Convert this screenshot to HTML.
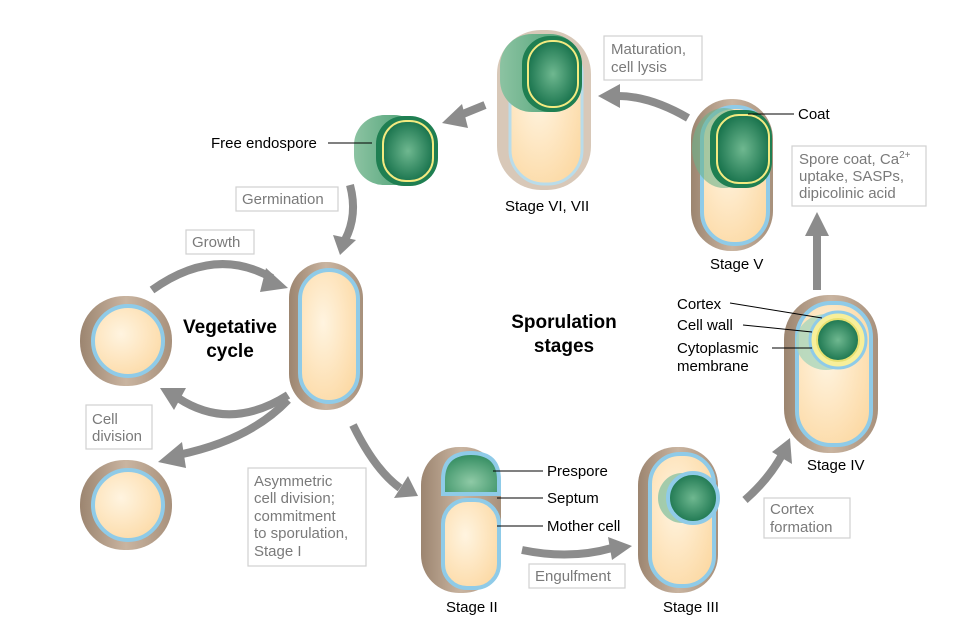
<!DOCTYPE html>
<html><head><meta charset="utf-8"><style>
body{margin:0;background:#fff}
svg{display:block;font-family:"Liberation Sans",sans-serif}
.lb{fill:#fff;stroke:#d0d0d0;stroke-width:1.2}
.lt{fill:#7a7a7a;font-size:15px}
.bt{fill:#000;font-size:15px}
.ar{fill:none;stroke:#8c8c8c;stroke-width:8;stroke-linecap:butt}
.ah{fill:#8c8c8c}
.ln{stroke:#000;stroke-width:1}
</style></head><body>
<svg width="965" height="628" viewBox="0 0 965 628">
<defs>
<linearGradient id="brown" x1="0" x2="1"><stop offset="0" stop-color="#9c8570"/><stop offset="0.5" stop-color="#c9b4a0"/><stop offset="1" stop-color="#a8917c"/></linearGradient>
<radialGradient id="cream" cx="0.4" cy="0.4" r="0.7"><stop offset="0" stop-color="#fff4e0"/><stop offset="1" stop-color="#fcd9a4"/></radialGradient>
<radialGradient id="green" cx="0.5" cy="0.7" r="0.7"><stop offset="0" stop-color="#8fcaa6"/><stop offset="1" stop-color="#2f8a5e"/></radialGradient>
<radialGradient id="dgreen" cx="0.5" cy="0.5" r="0.6"><stop offset="0" stop-color="#6fb890"/><stop offset="1" stop-color="#0d6a44"/></radialGradient>
<linearGradient id="gcoat" x1="0" x2="1"><stop offset="0" stop-color="#8cc3a2"/><stop offset="1" stop-color="#3f9a6c"/></linearGradient>
</defs>

<g>
<path class="ar" d="M152,290 Q215,245 272,278"/><polygon class="ah" points="266,268 288,288 260,292"/>
<path class="ar" d="M288,395 Q230,432 178,398"/><polygon class="ah" points="186,388 160,388 174,410"/>
<path class="ar" d="M288,400 Q250,440 178,455"/><polygon class="ah" points="182,442 158,462 186,468"/>
<path class="ar" d="M350,185 Q358,215 345,240"/><polygon class="ah" points="333,235 340,255 356,240"/>
<path class="ar" d="M485,105 L458,116"/><polygon class="ah" points="462,104 442,123 468,128"/>
<path class="ar" d="M688,118 Q650,96 618,96"/><polygon class="ah" points="620,84 598,96 620,108"/>
<path class="ar" d="M817,290 L817,232"/><polygon class="ah" points="805,236 817,212 829,236"/>
<path class="ar" d="M745,500 Q768,480 782,455"/><polygon class="ah" points="772,452 790,438 792,464"/>
<path class="ar" d="M522,550 Q570,560 612,548"/><polygon class="ah" points="608,537 632,546 612,560"/>
<path class="ar" d="M353,425 Q375,470 400,488"/><polygon class="ah" points="394,498 418,496 408,476"/>
</g>

<g>
<rect x="80" y="296" width="92" height="90" rx="44" fill="url(#brown)"/>
<circle cx="128" cy="341" r="35" fill="url(#cream)" stroke="#8fcbe8" stroke-width="4"/>
</g>
<g>
<rect x="80" y="460" width="92" height="90" rx="44" fill="url(#brown)"/>
<circle cx="128" cy="505" r="35" fill="url(#cream)" stroke="#8fcbe8" stroke-width="4"/>
</g>
<g>
<rect x="289" y="262" width="74" height="148" rx="36" fill="url(#brown)"/>
<rect x="300" y="270" width="58" height="132" rx="29" fill="url(#cream)" stroke="#8fcbe8" stroke-width="4"/>
</g>

<g>
<rect x="421" y="447" width="80" height="146" rx="38" fill="url(#brown)"/>
<path d="M443,494 V480 Q443,453 471,453 Q499,453 499,480 V494 Z" fill="url(#green)" stroke="#8fcbe8" stroke-width="4"/>
<rect x="443" y="500" width="56" height="88" rx="24" fill="url(#cream)" stroke="#8fcbe8" stroke-width="4"/>
</g>
<g>
<rect x="638" y="447" width="80" height="146" rx="38" fill="url(#brown)"/>
<rect x="650" y="454" width="64" height="132" rx="30" fill="url(#cream)" stroke="#8fcbe8" stroke-width="4"/>
<ellipse cx="682" cy="498" rx="24" ry="25" fill="#8cc3a2" opacity="0.8"/>
<circle cx="693" cy="498" r="25" fill="url(#dgreen)" stroke="#8fcbe8" stroke-width="4"/>
</g>
<g>
<rect x="784" y="295" width="94" height="158" rx="44" fill="url(#brown)"/>
<rect x="797" y="303" width="74" height="142" rx="34" fill="url(#cream)" stroke="#8fcbe8" stroke-width="4"/>
<ellipse cx="826" cy="342" rx="30" ry="28" fill="#aad6bb" opacity="0.8"/>
<circle cx="838" cy="340" r="28" fill="#f7ef9a" stroke="#8fcbe8" stroke-width="3"/>
<circle cx="838" cy="340" r="21" fill="url(#dgreen)" stroke="#e8e070" stroke-width="2"/>
</g>
<g>
<rect x="691" y="99" width="82" height="152" rx="40" fill="url(#brown)"/>
<rect x="702" y="107" width="66" height="137" rx="32" fill="url(#cream)" stroke="#8fcbe8" stroke-width="4"/>
<ellipse cx="724" cy="148" rx="32" ry="40" fill="#6ab38a" opacity="0.6"/>
<rect x="710" y="110" width="62" height="78" rx="26" fill="#1f7f52"/>
<rect x="717" y="115" width="52" height="68" rx="22" fill="url(#dgreen)" stroke="#f3ea80" stroke-width="2"/>
</g>
<g>
<rect x="497" y="30" width="94" height="160" rx="44" fill="#d8c8b8"/>
<rect x="510" y="40" width="72" height="144" rx="34" fill="url(#cream)" stroke="#b9dcea" stroke-width="3"/>
<rect x="500" y="34" width="82" height="78" rx="32" fill="url(#gcoat)"/>
<rect x="522" y="36" width="60" height="76" rx="28" fill="#1f7f52"/>
<rect x="528" y="41" width="50" height="66" rx="24" fill="url(#dgreen)" stroke="#f3ea80" stroke-width="2"/>
</g>
<g>
<rect x="354" y="115" width="70" height="70" rx="30" fill="url(#gcoat)"/>
<rect x="376" y="116" width="62" height="70" rx="28" fill="#1f7f52"/>
<rect x="383" y="121" width="50" height="60" rx="23" fill="url(#dgreen)" stroke="#f3ea80" stroke-width="2"/>
</g>

<g>
<rect class="lb" x="604" y="36" width="98" height="44"/><text class="lt" x="611" y="54">Maturation,</text><text class="lt" x="611" y="72">cell lysis</text>
<rect class="lb" x="792" y="146" width="134" height="60"/><text class="lt" x="799" y="164">Spore coat, Ca<tspan font-size="10" dy="-6">2+</tspan></text><text class="lt" x="799" y="181">uptake, SASPs,</text><text class="lt" x="799" y="198">dipicolinic acid</text>
<rect class="lb" x="236" y="187" width="102" height="24"/><text class="lt" x="242" y="204">Germination</text>
<rect class="lb" x="186" y="230" width="68" height="24"/><text class="lt" x="192" y="247">Growth</text>
<rect class="lb" x="86" y="405" width="66" height="44"/><text class="lt" x="92" y="424">Cell</text><text class="lt" x="92" y="441">division</text>
<rect class="lb" x="248" y="468" width="118" height="98"/><text class="lt" x="254" y="486">Asymmetric</text><text class="lt" x="254" y="503">cell division;</text><text class="lt" x="254" y="521">commitment</text><text class="lt" x="254" y="538">to sporulation,</text><text class="lt" x="254" y="556">Stage I</text>
<rect class="lb" x="529" y="564" width="96" height="24"/><text class="lt" x="535" y="581">Engulfment</text>
<rect class="lb" x="764" y="498" width="86" height="40"/><text class="lt" x="770" y="514">Cortex</text><text class="lt" x="770" y="532">formation</text>
</g>

<g>
<text class="bt" x="211" y="148">Free endospore</text><line class="ln" x1="328" y1="143" x2="372" y2="143"/>
<text class="bt" x="505" y="211">Stage VI, VII</text>
<text class="bt" x="798" y="119">Coat</text><line class="ln" x1="748" y1="114" x2="794" y2="114"/>
<text class="bt" x="710" y="269">Stage V</text>
<text class="bt" x="677" y="309">Cortex</text><line class="ln" x1="730" y1="303" x2="822" y2="318"/>
<text class="bt" x="677" y="330">Cell wall</text><line class="ln" x1="743" y1="325" x2="812" y2="332"/>
<text class="bt" x="677" y="353">Cytoplasmic</text><text class="bt" x="677" y="371">membrane</text><line class="ln" x1="772" y1="348" x2="812" y2="348"/>
<text class="bt" x="807" y="470">Stage IV</text>
<text class="bt" x="547" y="476">Prespore</text><line class="ln" x1="493" y1="471" x2="543" y2="471"/>
<text class="bt" x="547" y="503">Septum</text><line class="ln" x1="497" y1="498" x2="543" y2="498"/>
<text class="bt" x="547" y="531">Mother cell</text><line class="ln" x1="497" y1="526" x2="543" y2="526"/>
<text class="bt" x="446" y="612">Stage II</text>
<text class="bt" x="663" y="612">Stage III</text>
<text x="230" y="333" font-size="19" font-weight="bold" text-anchor="middle">Vegetative</text>
<text x="230" y="357" font-size="19" font-weight="bold" text-anchor="middle">cycle</text>
<text x="564" y="328" font-size="19" font-weight="bold" text-anchor="middle">Sporulation</text>
<text x="564" y="352" font-size="19" font-weight="bold" text-anchor="middle">stages</text>
</g>
</svg>
</body></html>
